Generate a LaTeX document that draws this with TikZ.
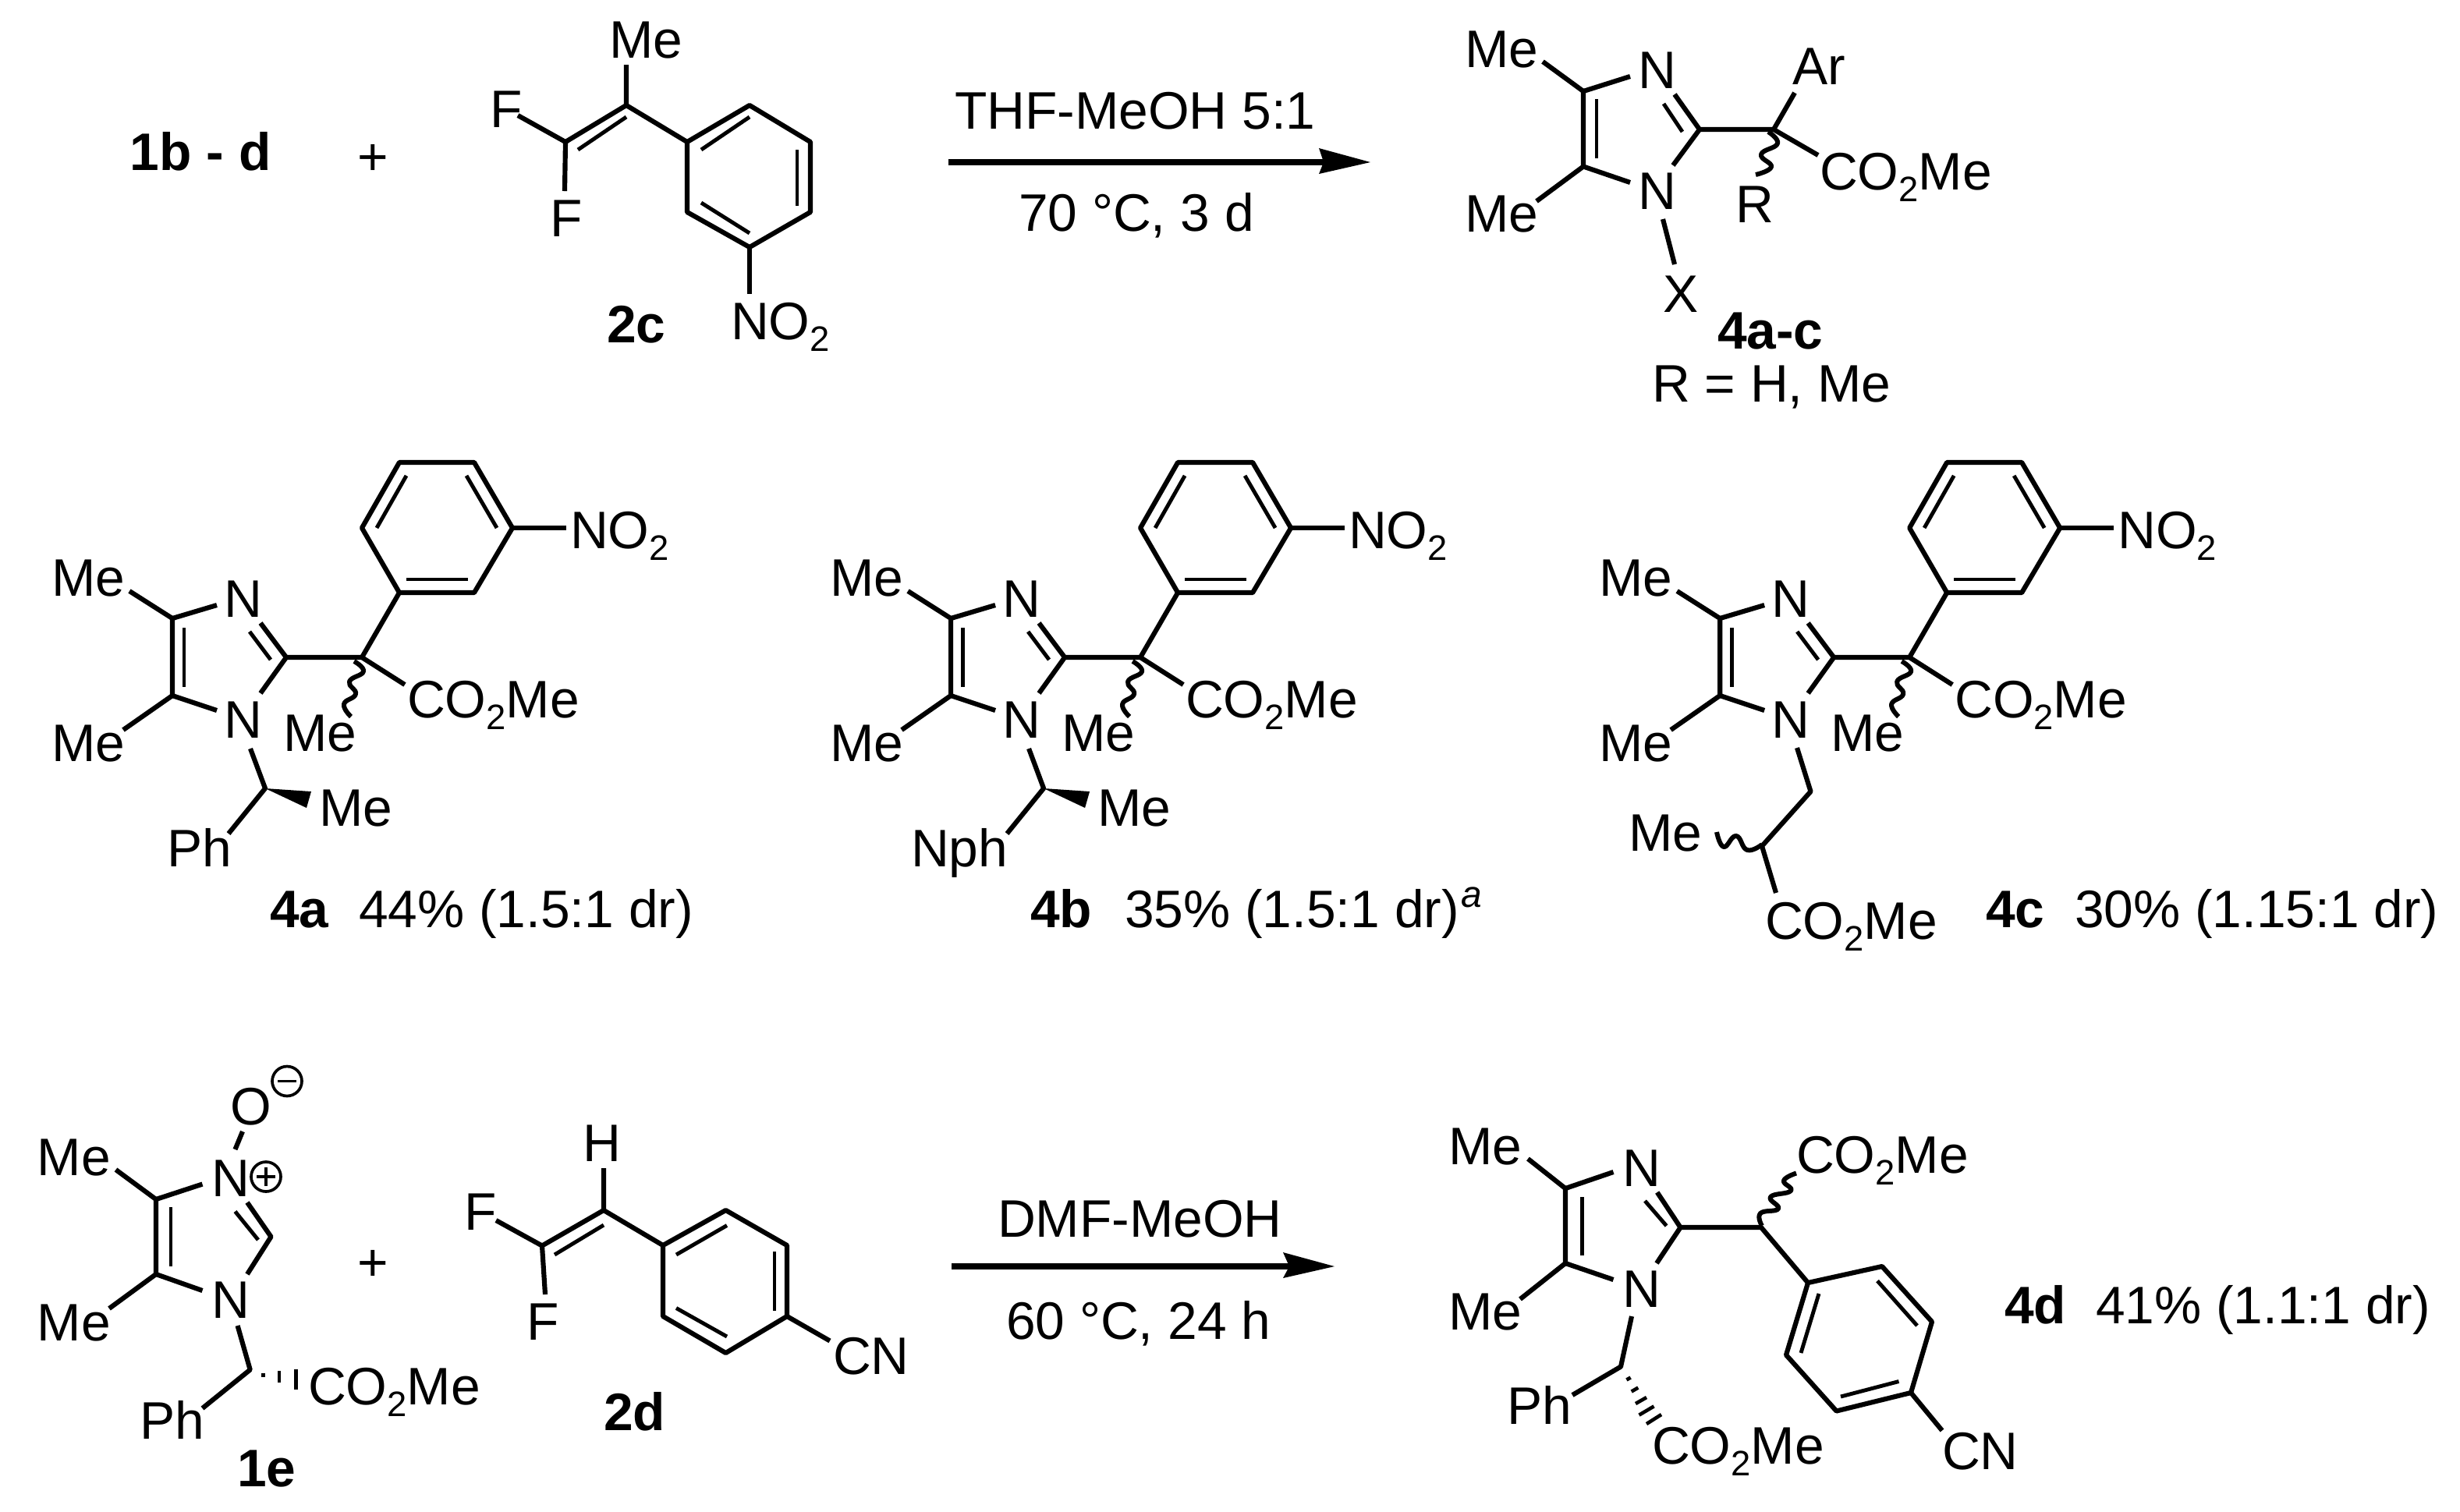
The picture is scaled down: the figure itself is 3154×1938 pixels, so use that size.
\documentclass[tikz,border=0pt]{standalone}
\usepackage{fontspec}
\setmainfont{Liberation Sans}
\newcommand\subtwo{\raisebox{-4.3pt}{\fontsize{12.9}{13}\selectfont 2}}
\newcommand\cotwome{CO\subtwo Me}
\newcommand\notwo{NO\subtwo}
\tikzset{
  chem/.style={inner sep=0pt,outer sep=0pt,anchor=base west,xshift=-0.02cm,font=\fontsize{19.25}{22}\selectfont,text=black},
  plain/.style={chem,anchor=base},
  boldlab/.style={chem,xshift=0.01cm,font=\fontsize{19.25}{22}\selectfont\bfseries},
  bond/.style={draw=black,line width=1.75pt,line cap=butt,line join=round},
  inbond/.style={draw=black,line width=1.4pt,line cap=butt},
  wavyline/.style={draw=black,line width=1.7pt,line join=round},
  hashb/.style={draw=black,line width=1.3pt},
  shaft/.style={draw=black,line width=2.3pt},
  head/.style={fill=black,draw=none},
  chargec/.style={draw=black,line width=1.05pt}
}
% 4a-c common part: 3-nitrophenyl / imidazole core, prefix #1
\newcommand\corebody[1]{%
  \draw[bond] (512,593) -- (608,593) -- (657,677) -- (608,760) -- (512,760) -- (464,677) -- cycle;
  \draw[inbond] (521,610) -- (483,677);
  \draw[inbond] (598,610) -- (637,677);
  \draw[inbond] (521,743) -- (600,743);
  \draw[bond] (657,677) -- (726,677);
  \draw[bond] (512,760) -- (464,843) -- (367,843);
  \draw[bond] (464,843) -- (519,878);
  \draw[bond] (278,776) -- (221,793) -- (221,892) -- (278,911);
  \draw[inbond] (236,805) -- (236,881);
  \draw[bond] (221,793) -- (166,758);
  \draw[bond] (221,892) -- (158,936);
  \draw[bond] (334,799) -- (367,843) -- (334,889);
  \draw[inbond] (320,810) -- (347,846);
  \draw[wavyline] plot[smooth,tension=0.8] coordinates {(454,848) (466,861) (448,874) (456,890) (441,903) (450,919)};
  \node[chem] (#1me1) at (68,764) {Me};
  \node[chem] (#1me2) at (68,976) {Me};
  \node[chem] (#1n3) at (289,791.5) {N};
  \node[chem] (#1n1) at (289,946) {N};
  \node[chem] (#1me3) at (365,963) {Me};
  \node[chem] (#1est) at (524,920) {\cotwome};
  \node[chem] (#1no2) at (733,703) {\notwo};
}
\newcommand\stereobody[1]{%
  \draw[bond] (321,960) -- (340,1011) -- (293,1069);
  \fill[black] (340,1011) -- (399,1015) -- (393,1036) -- cycle;
  \node[chem] (#1me4) at (411,1059) {Me};
}
\begin{document}
\begin{tikzpicture}[x=0.01cm,y=-0.01cm]
\useasboundingbox (0,0) rectangle (3154,1938);
\fill[white] (0,0) rectangle (3154,1938);

% ---- top line: reactants
\node[boldlab] (r1) at (168,218) {1b - d};
\node[plain] (plus1) at (480,224) {+};
\draw[bond] (803,83) -- (803,135) -- (881,182) -- (881,272) -- (961,317) -- (1039,272) -- (1039,182) -- (961,135) -- (881,182);
\draw[bond] (803,135) -- (725,182) -- (664,148);
\draw[bond] (725,182) -- (724,245);
\draw[inbond] (741,192) -- (803,150);
\draw[inbond] (899,192) -- (961,150);
\draw[inbond] (1022,192) -- (1022,264);
\draw[inbond] (899,260) -- (961,299);
\draw[bond] (961,317) -- (961,377);
\node[chem] (me2c) at (783,74) {Me};
\node[chem] (f2c) at (630,163) {F};
\node[chem] (fb2c) at (707,303) {F};
\node[chem] (no2c) at (939,435) {\notwo};
\node[boldlab] (l2c) at (779,439) {2c};

% ---- arrow 1
\coordinate (a1s) at (1215.6,208);
\coordinate (a1n) at (1697,208);
\coordinate (a1e) at (1757,208);
\coordinate (a1t) at (1691,190);
\coordinate (a1b) at (1691,223);
\draw[shaft] (a1s) -- (a1n);
\fill[head] (a1e) -- (a1t) -- (a1n) -- (a1b) -- cycle;
\node[chem] (c1a) at (1226,165) {THF-MeOH 5:1};
\node[chem] (c1b) at (1308,296) {70 °C, 3 d};

% ---- general product
\draw[bond] (2090,98) -- (2030,117) -- (2030,213.5) -- (2090,234);
\draw[inbond] (2047,127) -- (2047,203);
\draw[bond] (2030,117) -- (1978,79);
\draw[bond] (2030,213.5) -- (1970,258);
\draw[bond] (2147,121) -- (2179,166) -- (2145,212);
\draw[inbond] (2133,133) -- (2157,169);
\draw[bond] (2179,166) -- (2274,166) -- (2301,119);
\draw[bond] (2274,166) -- (2331,199);
\draw[wavyline] plot[smooth,tension=0.8] coordinates {(2267,169) (2279,184) (2258,198) (2271,214) (2251,224)};
\draw[bond] (2132,281) -- (2147,339);
\node[chem] (gme1) at (1880,86) {Me};
\node[chem] (gme2) at (1880,297) {Me};
\node[chem] (gn3) at (2102,113) {N};
\node[chem] (gn1) at (2102,268) {N};
\node[chem] (gar) at (2300,108) {Ar};
\node[chem] (gest) at (2335,243) {\cotwome};
\node[chem] (gr) at (2227,285) {R};
\node[chem] (gx) at (2134,400) {X};
\node[boldlab] (l4ac) at (2203,447) {4a-c};
\node[chem] (lr) at (2120,515) {R = H, Me};

% ---- 4a
\begin{scope}
\corebody{a}
\stereobody{a}
\node[chem] (aph) at (216,1111) {Ph};
\node[boldlab] (l4a) at (347,1189) {4a};
\node[chem] (y4a) at (462,1189) {44\% (1.5:1 dr)};
\end{scope}

% ---- 4b
\begin{scope}[xshift=9.975cm]
\corebody{b}
\stereobody{b}
\end{scope}
\node[chem] (bnph) at (1170,1111) {Nph};
\node[boldlab] (l4b) at (1322,1189) {4b};
\node[chem] (y4b) at (1444,1189) {35\% (1.5:1 dr)};
\node[chem,font=\fontsize{13.6}{15}\selectfont\itshape] (sup4b) at (1875,1163) {a};

% ---- 4c
\begin{scope}[xshift=19.83cm]
\corebody{c}
\end{scope}
\draw[bond] (2304,959) -- (2321.5,1015) -- (2259,1085) -- (2277,1145);
\draw[wavyline] plot[smooth,tension=0.8] coordinates {(2259,1083) (2240,1090) (2226,1072) (2210,1086) (2201,1067)};
\node[chem] (cme4) at (2090,1091) {Me};
\node[chem] (cest2) at (2265,1204) {\cotwome};
\node[boldlab] (l4c) at (2547,1189) {4c};
\node[chem] (y4c) at (2662,1189) {30\% (1.15:1 dr)};

% ---- 1e
\draw[bond] (311,1451) -- (301.5,1474);
\draw[bond] (259.5,1518.5) -- (200,1538) -- (200,1634) -- (259.5,1655);
\draw[inbond] (219,1548) -- (219,1624);
\draw[bond] (200,1538) -- (148.5,1500);
\draw[bond] (200,1634) -- (140,1678);
\draw[bond] (317,1542) -- (347.5,1586) -- (317,1634);
\draw[inbond] (301.5,1553.6) -- (331,1590);
\draw[bond] (304.6,1700) -- (320.7,1756.5) -- (259.5,1806);
\draw[hashb] (337.5,1761) -- (337.5,1766);
\draw[hashb] (358,1758) -- (358,1773);
\draw[hashb] (379.6,1756) -- (379.6,1782);
\node[chem] (eo) at (297,1442) {O};
\node[chem] (en3) at (273,1534.5) {N};
\node[chem] (en1) at (273,1690) {N};
\node[chem] (eme1) at (50,1507) {Me};
\node[chem] (eme2) at (50,1719) {Me};
\node[chem] (eph) at (181,1845) {Ph};
\node[chem] (eest) at (397,1801.5) {\cotwome};
\node[boldlab] (l1e) at (305,1906) {1e};
\draw[chargec] (368,1386.5) circle[radius=19];
\draw[chargec] (356,1386.5) -- (380,1386.5);
\draw[chargec] (341,1509) circle[radius=19];
\draw[chargec] (329,1509) -- (353,1509);
\draw[chargec] (341,1497) -- (341,1521);
\node[plain] (plus2) at (480,1642) {+};

% ---- 2d
\draw[bond] (774,1498) -- (774,1552) -- (850,1597) -- (850,1688) -- (930.5,1735) -- (1009,1688) -- (1009,1597) -- (930.5,1552) -- (850,1597);
\draw[bond] (774,1552) -- (695,1597.5) -- (636,1565);
\draw[bond] (695,1597.5) -- (699,1660);
\draw[inbond] (711,1609) -- (774,1571);
\draw[inbond] (867,1609) -- (932,1571.5);
\draw[inbond] (993,1605) -- (993,1680.6);
\draw[inbond] (867,1677.5) -- (932,1714);
\draw[bond] (1009,1688) -- (1064,1719.5);
\node[chem] (dh) at (749,1489) {H};
\node[chem] (df1) at (597,1577.6) {F};
\node[chem] (df2) at (677,1718) {F};
\node[chem] (dcn) at (1070,1762.6) {CN};
\node[boldlab] (l2d) at (775,1834) {2d};

% ---- arrow 2
\coordinate (a2s) at (1220,1624);
\coordinate (a2n) at (1653,1624);
\coordinate (a2e) at (1711,1624);
\coordinate (a2t) at (1645,1606);
\coordinate (a2b) at (1645,1639);
\draw[shaft] (a2s) -- (a2n);
\fill[head] (a2e) -- (a2t) -- (a2n) -- (a2b) -- cycle;
\node[chem] (c2a) at (1281,1586) {DMF-MeOH};
\node[chem] (c2b) at (1292,1717) {60 °C, 24 h};

% ---- 4d
\draw[bond] (2068.5,1503) -- (2007,1524) -- (2007,1620) -- (2068.5,1641);
\draw[inbond] (2028.5,1535) -- (2028.5,1609.5);
\draw[bond] (2007,1524) -- (1959,1486);
\draw[bond] (2007,1620) -- (1949,1666);
\draw[bond] (2124.7,1529) -- (2154.5,1574) -- (2124,1620);
\draw[inbond] (2109,1540) -- (2136.6,1572);
\draw[bond] (2154.5,1574) -- (2258,1574) -- (2318,1645);
\draw[wavyline] plot[smooth,tension=0.8] coordinates {(2259,1572) (2257,1556) (2280,1550) (2270,1535) (2296,1527) (2287,1514) (2303,1504.5)};
\draw[bond] (2318,1645) -- (2413,1624) -- (2477,1695) -- (2450,1786) -- (2354.5,1809.5) -- (2290,1737.6) -- cycle;
\draw[inbond] (2407,1642.6) -- (2458,1700);
\draw[inbond] (2332,1659) -- (2309,1735);
\draw[inbond] (2360,1791) -- (2434.5,1771.5);
\draw[bond] (2450,1786) -- (2490,1834.5);
\draw[bond] (2092,1688) -- (2078,1752.6) -- (2016,1789);
\draw[hashb] (2085.4,1769.5) -- (2090.6,1766.5);
\draw[hashb] (2091.7,1784.5) -- (2100.3,1779.5);
\draw[hashb] (2097,1800) -- (2111,1792);
\draw[hashb] (2101.5,1814.6) -- (2120.5,1803.4);
\draw[hashb] (2111,1826) -- (2130,1814);
\node[chem] (dme1) at (1859,1493) {Me};
\node[chem] (dme2) at (1859,1705) {Me};
\node[chem] (dn3) at (2082,1521.6) {N};
\node[chem] (dn1) at (2082,1676.4) {N};
\node[chem] (dest1) at (2305,1504) {\cotwome};
\node[chem] (dest2) at (2120,1877) {\cotwome};
\node[chem] (dph) at (1934.6,1826) {Ph};
\node[chem] (dcn2) at (2492,1884.6) {CN};
\node[boldlab] (l4d) at (2571,1697) {4d};
\node[chem] (y4d) at (2689,1697) {41\% (1.1:1 dr)};
\end{tikzpicture}
\end{document}
